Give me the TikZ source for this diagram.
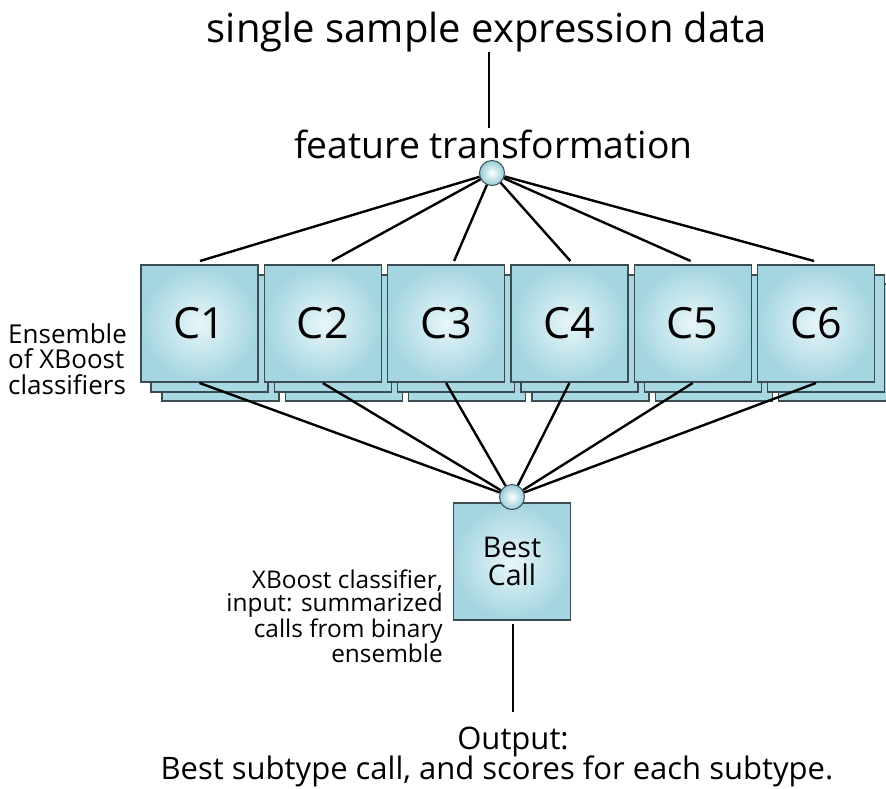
\documentclass[tikz,border=0pt]{standalone}
\usepackage{fontspec}
\setmainfont{Open Sans}
\definecolor{edge}{RGB}{58,76,82}
\definecolor{cardin}{RGB}{232,246,249}
\definecolor{cardout}{RGB}{164,213,224}
\definecolor{layerfill}{RGB}{168,216,226}
\definecolor{dotout}{RGB}{150,205,216}
\tikzset{
  card/.style={draw=edge, line width=1.3pt, minimum size=117pt, inner sep=0pt,
    outer sep=0pt, shading=radial, inner color=cardin, outer color=cardout},
  backcard/.style={draw=edge, line width=1.3pt, minimum size=117pt, inner sep=0pt,
    outer sep=0pt, fill=layerfill},
  dot/.style={circle, draw=edge, line width=1pt, minimum size=25pt, inner sep=0pt,
    shading=radial, inner color=white, outer color=dotout},
  link/.style={line width=2.4pt, black},
  titletext/.style={font=\fontsize{40}{44}\selectfont, inner sep=0pt},
  feattext/.style={font=\fontsize{37.3}{42}\selectfont, inner sep=0pt},
  clabel/.style={font=\fontsize{43}{48}\selectfont},
  sidetext/.style={font=\fontsize{26}{25.5}\selectfont, inner sep=0pt},
  notetext/.style={font=\fontsize{24.4}{23.5}\selectfont, inner sep=0pt},
  outtext/.style={font=\fontsize{31}{31}\selectfont, inner sep=0pt},
}
\begin{document}
\begin{tikzpicture}[x=1pt,y=-1pt]
\useasboundingbox (0,0) rectangle (886,788);
\clip (0,0) rectangle (886,788);

% headings
\node[titletext, anchor=base] (title) at (487,42) {single sample expression data};
\node[feattext, anchor=base] (feat) at (493.5,158) {feature transformation};
\coordinate (titlefoot) at (489,52);
\coordinate (feathead) at (489,128);
\draw[link, line width=2pt] (titlefoot) -- (feathead);

% stacked classifier cards, drawn left to right
\foreach \i in {1,...,6} {
  \pgfmathsetmacro\cx{199.5+123.3*(\i-1)}
  \node[backcard] (c\i-l3) at (\cx+21,342.5) {};
  \node[backcard] (c\i-l2) at (\cx+10,333.5) {};
  \node[card, clabel] (c\i) at (\cx,323.5) {C\i};
}

% fan-out from the feature point
\node[dot] (topdot) at (492,173) {};
\foreach \i/\dx in {1/0.5,2/9,3/8,4/1,5/-2,6/-2} {
  \coordinate (t\i) at ([xshift=\dx pt, yshift=4pt]c\i.north);
  \draw[link] (topdot) -- (t\i);
}

% best-call classifier
\node[card, align=center, font=\fontsize{28.5}{28}\selectfont] (best) at (512,561.5) {Best\\Call};
\node[dot] (botdot) at (512,497) {};
\foreach \i in {1,...,6} {
  \coordinate (b\i) at ([yshift=-1pt]c\i.south);
  \draw[link] (b\i) -- (botdot);
}

% labels
\node[sidetext, anchor=west, align=left] (enslabel) at (8,359) {Ensemble\\of XBoost\\classifiers};
\node[notetext, anchor=east, align=right] (bestnote) at (443,616) {XBoost classifier,\\input: summarized\\calls from binary\\ensemble};

% output
\coordinate (bestfoot) at (513,624);
\coordinate (outhead) at (513,712);
\draw[link, line width=2pt] (bestfoot) -- (outhead);
\node[outtext, anchor=base] (out1) at (513,749) {Output:};
\node[outtext, anchor=base] (out2) at (497,779) {Best subtype call, and scores for each subtype.};
\end{tikzpicture}
\end{document}
